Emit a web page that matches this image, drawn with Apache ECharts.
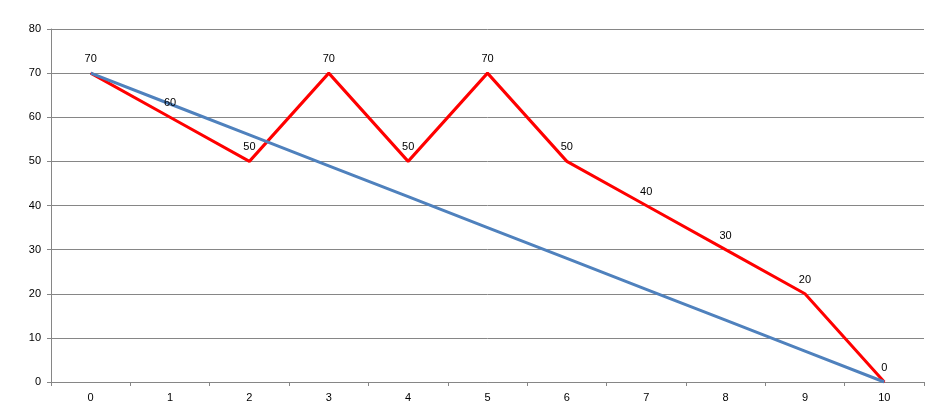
<!DOCTYPE html>
<html><head><meta charset="utf-8">
<script src="https://cdn.jsdelivr.net/npm/echarts@6/dist/echarts.min.js"></script>
<style>html,body{margin:0;padding:0;background:#fff}#c{width:936px;height:420px}</style>
</head><body><div id="c"></div>
<script>
const categories = ['0','1','2','3','4','5','6','7','8','9','10'];
const actual = [70,60,50,70,50,70,50,40,30,20,0];
const ideal = [70,63,56,49,42,35,28,21,14,7,0];
const yMin = 0, yMax = 80, yStep = 10;

const chart = echarts.init(document.getElementById('c'));
const font = 'Liberation Sans, Arial, sans-serif';
chart.setOption({
  animation: false,
  backgroundColor: '#fff',
  grid: {left: 51, right: 12, top: 29, bottom: 38},
  xAxis: {
    type: 'category', data: categories, boundaryGap: true,
    axisLine: {lineStyle: {color: '#868686', width: 1}},
    axisTick: {show: true, length: 4, alignWithLabel: false, lineStyle: {color: '#868686'}},
    axisLabel: {color: '#000', fontSize: 11, fontFamily: font, margin: 10}
  },
  yAxis: {
    type: 'value', min: yMin, max: yMax, interval: yStep,
    axisLine: {show: true, lineStyle: {color: '#868686', width: 1}},
    axisTick: {show: true, length: 4, lineStyle: {color: '#868686'}},
    axisLabel: {color: '#000', fontSize: 11, fontFamily: font, margin: 10},
    splitLine: {lineStyle: {color: '#868686', width: 1}}
  },
  series: [
    {type: 'line', data: actual, symbol: 'none',
     lineStyle: {color: '#FF0000', width: 3}, itemStyle: {color: '#FF0000'}, z: 2},
    {type: 'line', data: ideal, symbol: 'none', lineStyle: {color: '#4F81BD', width: 3}, itemStyle: {color: '#4F81BD'}, z: 3},
    {type: 'line', data: actual, symbol: 'circle', symbolSize: 1, showSymbol: true,
     lineStyle: {width: 0, opacity: 0}, itemStyle: {color: '#FF0000'}, tooltip: {show: false},
     label: {show: true, position: 'top', distance: 8, color: '#000', fontSize: 11, fontFamily: font}, z: 4}
  ]
});
</script></body></html>
